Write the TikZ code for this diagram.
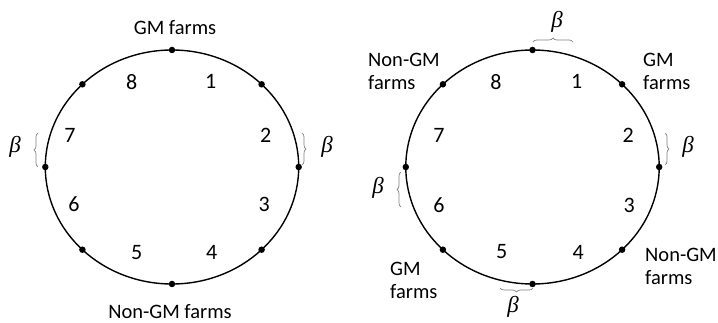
\documentclass[tikz,border=0pt]{standalone}
\usepackage{fontspec}
\setmainfont{Carlito}
\newfontfamily\betafont{Liberation Serif}
\usetikzlibrary{decorations.pathreplacing}
\begin{document}
\begin{tikzpicture}[x=1pt,y=-1pt,
  ring/.style={line width=1.4pt},
  dot/.style={circle,fill,inner sep=0pt,minimum size=6.5pt},
  num/.style={font=\fontsize{22}{24}\selectfont,inner sep=0pt},
  lab/.style={font=\fontsize{20.5}{23}\selectfont,inner sep=0pt,align=left},
  brk/.style={draw=gray,line width=0.7pt,decorate,decoration={brace,amplitude=4pt}},
  bet/.style={font=\betafont\itshape\fontsize{23}{24}\selectfont,inner sep=0pt}]
\useasboundingbox (0,0) rectangle (718,323);
% ---------- left ring ----------
\draw[ring] (172,167) ellipse [x radius=126.7, y radius=117];
\node[dot] (LT) at (172,50) {};
\node[dot] (LTR) at (261.6,84.3) {};
\node[dot] (LR) at (298.7,167) {};
\node[dot] (LBR) at (261.6,249.7) {};
\node[dot] (LB) at (172,284) {};
\node[dot] (LBL) at (82.4,249.7) {};
\node[dot] (LL) at (45.3,167) {};
\node[dot] (LTL) at (82.4,84.3) {};
\node[num] (l1) at (210.7,81.7) {1};
\node[num] (l2) at (265.7,135) {2};
\node[num] (l3) at (264.3,204) {3};
\node[num] (l4) at (211.7,252.3) {4};
\node[num] (l5) at (136.7,252.3) {5};
\node[num] (l6) at (74,204) {6};
\node[num] (l7) at (70,135) {7};
\node[num] (l8) at (131.7,81.7) {8};
\node[lab] (lgm) at (175,28) {GM farms};
\node[lab] (lngm) at (170,312) {Non-GM farms};
\coordinate (lbr1) at (38,167);
\coordinate (lbr2) at (38,133);
\draw[brk] (lbr1) -- (lbr2);
\coordinate (rbr1) at (302,133);
\coordinate (rbr2) at (302,165);
\draw[brk] (rbr1) -- (rbr2);
\node[bet] (lb1) at (15,147) {β};
\node[bet] (lb2) at (327,147) {β};
% ---------- right ring ----------
\draw[ring] (532.5,167) ellipse [x radius=126.7, y radius=117];
\node[dot] (RT) at (532.5,50) {};
\node[dot] (RTR) at (622.1,84.3) {};
\node[dot] (RR) at (659.2,167) {};
\node[dot] (RBR) at (622.1,249.7) {};
\node[dot] (RB) at (532.5,284) {};
\node[dot] (RBL) at (442.9,249.7) {};
\node[dot] (RL) at (405.8,167) {};
\node[dot] (RTL) at (442.9,84.3) {};
\node[num] (r1) at (576.7,81.7) {1};
\node[num] (r2) at (628.3,135) {2};
\node[num] (r3) at (629.3,205) {3};
\node[num] (r4) at (578.3,252) {4};
\node[num] (r5) at (501.7,252) {5};
\node[num] (r6) at (439,205) {6};
\node[num] (r7) at (439,135) {7};
\node[num] (r8) at (496,81.7) {8};
\node[lab,anchor=west] (rngm1) at (368,71.5) {Non-GM\\farms};
\node[lab,anchor=west] (rgm1) at (643,71.5) {GM\\farms};
\node[lab,anchor=west] (rngm2) at (645,266) {Non-GM\\farms};
\node[lab,anchor=west] (rgm2) at (390,280) {GM\\farms};
\coordinate (tb1) at (533,42);
\coordinate (tb2) at (573,42);
\draw[brk] (tb1) -- (tb2);
\coordinate (sb1) at (665,133);
\coordinate (sb2) at (665,165);
\draw[brk] (sb1) -- (sb2);
\coordinate (wb1) at (401,207);
\coordinate (wb2) at (401,172);
\draw[brk] (wb1) -- (wb2);
\coordinate (bb1) at (533,288);
\coordinate (bb2) at (500,288);
\draw[brk] (bb1) -- (bb2);
\node[bet] (rb1) at (557,22) {β};
\node[bet] (rb2) at (688,147) {β};
\node[bet] (rb3) at (378,188) {β};
\node[bet] (rb4) at (513,307) {β};
\end{tikzpicture}
\end{document}
